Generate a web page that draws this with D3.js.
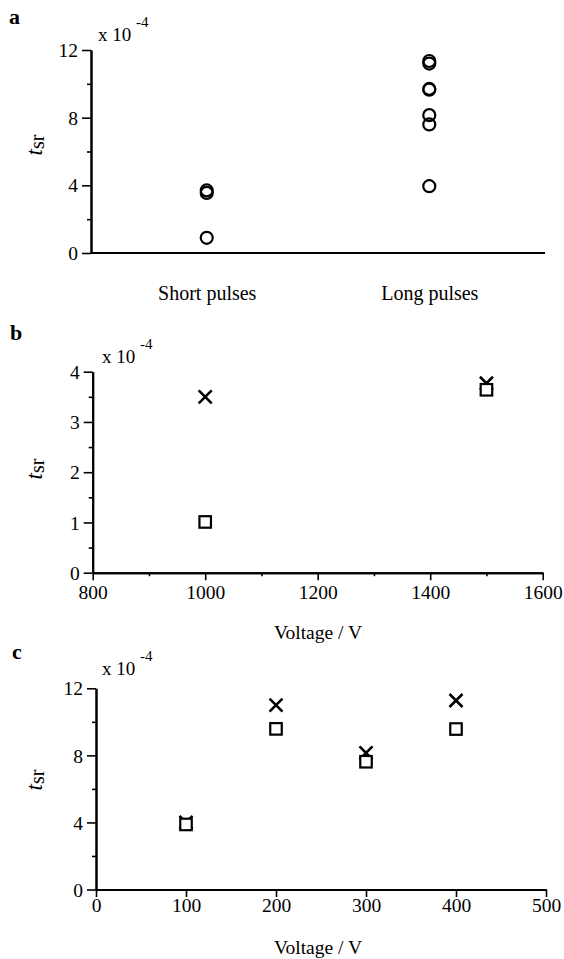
<!DOCTYPE html>
<html>
<head>
<meta charset="utf-8">
<script src="https://cdn.jsdelivr.net/npm/d3@7"></script>
<style>
  html, body { margin: 0; padding: 0; background: #fff; }
  svg { display: block; }
  text { font-family: "Liberation Serif", "Times New Roman", serif; fill: #000; }
</style>
</head>
<body>
<svg id="chart" width="564" height="959"></svg>
<script>
// ---------- data ----------
const categoriesA = ["Short pulses", "Long pulses"];
const shortPulses = [0.9, 3.55, 3.7];
const longPulses = [3.95, 7.6, 8.15, 9.65, 9.7, 11.2, 11.35];

const voltsB = [1000, 1500];
const crossB = [3.5, 3.77];
const squareB = [1.01, 3.64];

const voltsC = [100, 200, 300, 400];
const crossC = [4.0, 11.0, 8.15, 11.27];
const squareC = [3.88, 9.58, 7.62, 9.57];

const yTicksA = [0, 4, 8, 12];
const yMinorA = [2, 6, 10];
const yTicksB = [0, 1, 2, 3, 4];
const yMinorB = [0.5, 1.5, 2.5, 3.5];
const xTicksB = [800, 1000, 1200, 1400, 1600];
const xMinorB = [900, 1100, 1300, 1500];
const yTicksC = [0, 4, 8, 12];
const yMinorC = [2, 6, 10];
const xTicksC = [0, 100, 200, 300, 400, 500];

// ---------- helpers ----------
const svg = d3.select("#chart");
const FS = 19.5;
const fmt = d3.format("d");

function styleAxis(g) {
  g.select(".domain").attr("stroke", "#000").attr("stroke-width", 2);
  g.selectAll(".tick line").attr("stroke", "#000").attr("stroke-width", 1.6);
  g.selectAll(".tick text").style("font-size", FS + "px")
    .style("font-family", "'Liberation Serif','Times New Roman',serif").attr("fill", "#000");
}

function yAxis(y, x0, ticks, minor) {
  const g = svg.append("g").attr("transform", `translate(${x0},0)`);
  g.call(d3.axisLeft(y).tickValues(minor).tickSize(4).tickSizeOuter(0).tickFormat(""))
    .call(styleAxis);
  const g2 = svg.append("g").attr("transform", `translate(${x0},0)`);
  g2.call(d3.axisLeft(y).tickValues(ticks).tickSize(9).tickPadding(4).tickFormat(fmt).tickSizeOuter(0))
    .call(styleAxis);
  g2.selectAll(".tick text").attr("dy", "0.34em");
}

function yLabel(x, y) {
  const t = svg.append("text")
    .attr("transform", `translate(${x},${y}) rotate(-90)`)
    .attr("text-anchor", "middle");
  t.append("tspan").style("font-style", "italic").style("font-size", "23px").text("t");
  t.append("tspan").style("font-size", "20px").attr("dy", "2").text("sr");
}

function expLabel(x, y) {
  const t = svg.append("text").attr("x", x).attr("y", y).style("font-size", "19px");
  t.append("tspan").text("x 10 ");
  t.append("tspan").style("font-size", "15px").attr("dy", "-14").text("-4");
}

function panelLabel(x, y, s) {
  svg.append("text").attr("x", x).attr("y", y)
    .style("font-size", "22px").style("font-weight", "bold").text(s);
}

function crosses(xs, ys, xv, yv, h) {
  svg.append("g").selectAll("path").data(xv).join("path")
    .attr("d", (d, i) => {
      const cx = xs(d), cy = ys(yv[i]);
      return `M${cx - h},${cy - h}L${cx + h},${cy + h}M${cx - h},${cy + h}L${cx + h},${cy - h}`;
    })
    .attr("stroke", "#000").attr("stroke-width", 2.6).attr("fill", "none");
}

function squares(xs, ys, xv, yv, s) {
  svg.append("g").selectAll("rect").data(xv).join("rect")
    .attr("x", d => xs(d) - s / 2)
    .attr("y", (d, i) => ys(yv[i]) - s / 2)
    .attr("width", s).attr("height", s)
    .attr("fill", "#fff").attr("stroke", "#000").attr("stroke-width", 2.2);
}

// ---------- panel a ----------
{
  const x = d3.scalePoint().domain(categoriesA).range([91, 545]).padding(0.52);
  const y = d3.scaleLinear().domain([0, 12]).range([253, 50]);
  const gx = svg.append("g").attr("transform", "translate(0,253)");
  gx.call(d3.axisBottom(x).tickSize(0).tickPadding(33).tickSizeOuter(0)).call(styleAxis);
  gx.select(".domain").attr("d", "M91,0H545");
  gx.selectAll(".tick text").style("font-size", "20px");
  yAxis(y, 91, yTicksA, yMinorA);

  const pts = [
    ...shortPulses.map(v => ({ c: categoriesA[0], v })),
    ...longPulses.map(v => ({ c: categoriesA[1], v }))
  ];
  svg.append("g").selectAll("circle").data(pts).join("circle")
    .attr("cx", d => x(d.c)).attr("cy", d => y(d.v)).attr("r", 6)
    .attr("fill", "none").attr("stroke", "#000").attr("stroke-width", 2.2);

  yLabel(42, 145);
  expLabel(98, 41);
  panelLabel(9, 24, "a");
}

// ---------- panel b ----------
{
  const x = d3.scaleLinear().domain([800, 1600]).range([92.7, 542.7]);
  const y = d3.scaleLinear().domain([0, 4]).range([572.7, 371.7]);
  const gxm = svg.append("g").attr("transform", "translate(0,572.7)");
  gxm.call(d3.axisBottom(x).tickValues(xMinorB).tickSize(3.5).tickFormat("").tickSizeOuter(0)).call(styleAxis);
  const gx = svg.append("g").attr("transform", "translate(0,572.7)");
  gx.call(d3.axisBottom(x).tickValues(xTicksB).tickSize(7.5).tickPadding(5).tickFormat(fmt).tickSizeOuter(0)).call(styleAxis);
  yAxis(y, 92.7, yTicksB, yMinorB);

  crosses(x, y, voltsB, crossB, 6.5);
  squares(x, y, voltsB, squareB, 11.5);

  svg.append("text").attr("x", 318).attr("y", 639).attr("text-anchor", "middle")
    .style("font-size", FS + "px").text("Voltage / V");
  yLabel(42, 469);
  expLabel(102, 363);
  panelLabel(10, 340, "b");
}

// ---------- panel c ----------
{
  const x = d3.scaleLinear().domain([0, 500]).range([96, 546]);
  const y = d3.scaleLinear().domain([0, 12]).range([889.5, 688.3]);
  const gx = svg.append("g").attr("transform", "translate(0,889.5)");
  gx.call(d3.axisBottom(x).tickValues(xTicksC).tickSize(7.5).tickPadding(1).tickFormat(fmt).tickSizeOuter(0)).call(styleAxis);
  yAxis(y, 96, yTicksC, yMinorC);

  crosses(x, y, voltsC, crossC, 6.5);
  squares(x, y, voltsC, squareC, 11.5);

  svg.append("text").attr("x", 318).attr("y", 954).attr("text-anchor", "middle")
    .style("font-size", FS + "px").text("Voltage / V");
  yLabel(42, 780);
  expLabel(102, 675);
  panelLabel(12, 659, "c");
}
</script>
</body>
</html>
